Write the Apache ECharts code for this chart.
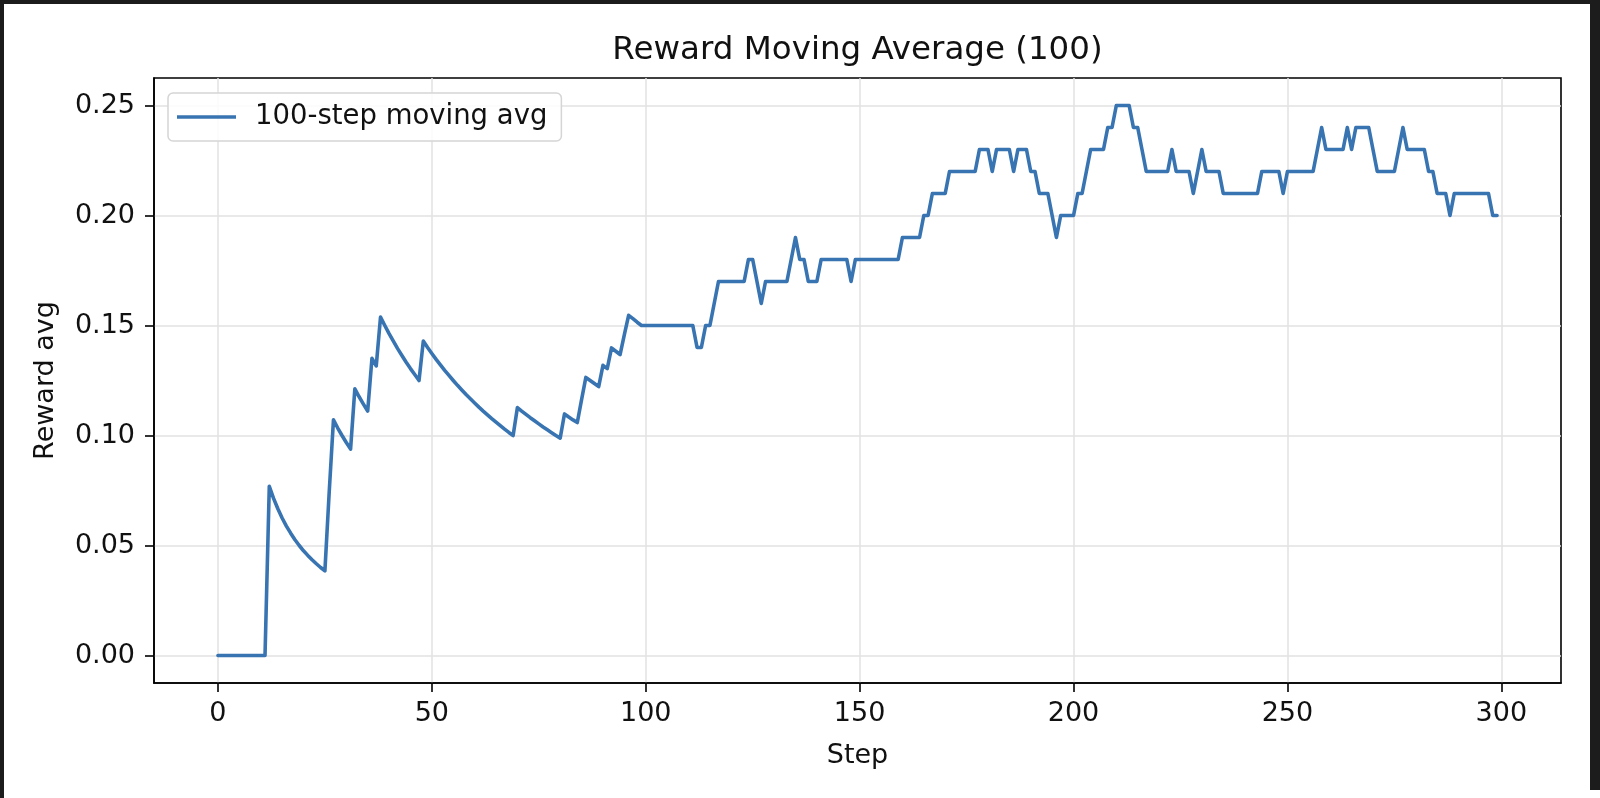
<!DOCTYPE html>
<html>
<head>
<meta charset="utf-8">
<script src="https://cdn.jsdelivr.net/npm/echarts@6/dist/echarts.min.js"></script>
<style>
  html, body { margin: 0; padding: 0; background: #ffffff; }
  #chart { width: 1600px; height: 798px; }
</style>
</head>
<body>
<div id="chart"></div>
<script>
// ---- data ----
const chartTitle = 'Reward Moving Average (100)';
const seriesName = '100-step moving avg';
const xAxisName = 'Step';
const yAxisName = 'Reward avg';
const xTickValues = [0, 50, 100, 150, 200, 250, 300];
const yTickValues = [0, 0.05, 0.10, 0.15, 0.20, 0.25];
// 100-step moving average, one value per step (step = index)
const rewardAvg = [
  0,0,0,0,0,0,0,0,0,0,
  0,0,0.0769,0.0714,0.0667,0.0625,0.0588,0.0556,0.0526,0.05,
  0.0476,0.0455,0.0435,0.0417,0.04,0.0385,0.0741,0.1071,0.1034,0.1,
  0.0968,0.0938,0.1212,0.1176,0.1143,0.1111,0.1351,0.1316,0.1538,0.15,
  0.1463,0.1429,0.1395,0.1364,0.1333,0.1304,0.1277,0.125,0.1429,0.14,
  0.1373,0.1346,0.1321,0.1296,0.1273,0.125,0.1228,0.1207,0.1186,0.1167,
  0.1148,0.1129,0.1111,0.1094,0.1077,0.1061,0.1045,0.1029,0.1014,0.1,
  0.1127,0.1111,0.1096,0.1081,0.1067,0.1053,0.1039,0.1026,0.1013,0.1,
  0.0988,0.1098,0.1084,0.1071,0.1059,0.1163,0.1264,0.125,0.1236,0.1222,
  0.1319,0.1304,0.1398,0.1383,0.1368,0.1458,0.1546,0.1531,0.1515,0.15,
  0.15,0.15,0.15,0.15,0.15,0.15,0.15,0.15,0.15,0.15,
  0.15,0.15,0.14,0.14,0.15,0.15,0.16,0.17,0.17,0.17,
  0.17,0.17,0.17,0.17,0.18,0.18,0.17,0.16,0.17,0.17,
  0.17,0.17,0.17,0.17,0.18,0.19,0.18,0.18,0.17,0.17,
  0.17,0.18,0.18,0.18,0.18,0.18,0.18,0.18,0.17,0.18,
  0.18,0.18,0.18,0.18,0.18,0.18,0.18,0.18,0.18,0.18,
  0.19,0.19,0.19,0.19,0.19,0.20,0.20,0.21,0.21,0.21,
  0.21,0.22,0.22,0.22,0.22,0.22,0.22,0.22,0.23,0.23,
  0.23,0.22,0.23,0.23,0.23,0.23,0.22,0.23,0.23,0.23,
  0.22,0.22,0.21,0.21,0.21,0.20,0.19,0.20,0.20,0.20,
  0.20,0.21,0.21,0.22,0.23,0.23,0.23,0.23,0.24,0.24,
  0.25,0.25,0.25,0.25,0.24,0.24,0.23,0.22,0.22,0.22,
  0.22,0.22,0.22,0.23,0.22,0.22,0.22,0.22,0.21,0.22,
  0.23,0.22,0.22,0.22,0.22,0.21,0.21,0.21,0.21,0.21,
  0.21,0.21,0.21,0.21,0.22,0.22,0.22,0.22,0.22,0.21,
  0.22,0.22,0.22,0.22,0.22,0.22,0.22,0.23,0.24,0.23,
  0.23,0.23,0.23,0.23,0.24,0.23,0.24,0.24,0.24,0.24,
  0.23,0.22,0.22,0.22,0.22,0.22,0.23,0.24,0.23,0.23,
  0.23,0.23,0.23,0.22,0.22,0.21,0.21,0.21,0.20,0.21,
  0.21,0.21,0.21,0.21,0.21,0.21,0.21,0.21,0.20,0.20
];

// ---- chart ----
const FONT = 'DejaVu Sans';
const TXT = '#111111';
const LINE_COLOR = '#3874b1';
const seriesData = rewardAvg.map((v, i) => [i, v]);

const chart = echarts.init(document.getElementById('chart'), null, { renderer: 'canvas' });
chart.setOption({
  animation: false,
  backgroundColor: '#ffffff',
  textStyle: { fontFamily: FONT },
  grid: {
    left: 154, top: 78, right: 39, bottom: 115,
    show: true, borderColor: '#000000', borderWidth: 1.6, backgroundColor: 'transparent',
    containLabel: false
  },
  legend: {
    left: 168, top: 93,
    orient: 'vertical',
    data: [{ name: seriesName, icon: 'rect' }],
    itemWidth: 59, itemHeight: 3.6,
    padding: [10, 14, 10, 9],
    backgroundColor: 'rgba(255,255,255,0.85)',
    borderColor: '#d5d5d5', borderWidth: 1.5, borderRadius: 5,
    textStyle: { fontFamily: FONT, fontSize: 27.5, color: TXT, padding: [0, 0, 0, 14] }
  },
  xAxis: {
    type: 'value',
    min: -14.95, max: 313.95,
    name: xAxisName, nameLocation: 'middle', nameGap: 59,
    nameTextStyle: { fontFamily: FONT, fontSize: 27, color: TXT },
    axisLine: { show: true, onZero: false, lineStyle: { color: '#000', width: 1.6 } },
    axisTick: { show: true, inside: false, length: 9, customValues: xTickValues, lineStyle: { color: '#000', width: 1.6 } },
    axisLabel: { show: true, customValues: xTickValues, margin: 17, fontFamily: FONT, fontSize: 27, color: TXT,
                 formatter: v => String(Math.round(v)) },
    splitLine: { show: true, lineStyle: { color: '#e2e2e2', width: 1.5 } }
  },
  yAxis: {
    type: 'value',
    min: -0.0125, max: 0.2625,
    name: yAxisName, nameLocation: 'middle', nameGap: 95, nameRotate: 90,
    nameTextStyle: { fontFamily: FONT, fontSize: 27, color: TXT },
    axisLine: { show: true, onZero: false, lineStyle: { color: '#000', width: 1.6 } },
    axisTick: { show: true, inside: false, length: 9, customValues: yTickValues, lineStyle: { color: '#000', width: 1.6 } },
    axisLabel: { show: true, customValues: yTickValues, margin: 19, fontFamily: FONT, fontSize: 27, color: TXT,
                 formatter: v => Number(v).toFixed(2) },
    splitLine: { show: true, lineStyle: { color: '#e2e2e2', width: 1.5 } }
  },
  series: [{
    name: seriesName,
    type: 'line',
    data: seriesData,
    symbol: 'none',
    showSymbol: false,
    smooth: false,
    color: LINE_COLOR,
    itemStyle: { color: LINE_COLOR },
    lineStyle: { color: LINE_COLOR, width: 3.6, join: 'round', cap: 'round' },
    z: 3
  }],
  graphic: [
    { type: 'text', x: 857.5, y: 51, z: 10,
      style: { text: chartTitle, fontFamily: FONT, fontSize: 32.5, fill: TXT,
               textAlign: 'center', textVerticalAlign: 'middle' } },
    { type: 'rect', shape: { x: 0, y: 0, width: 1600, height: 4 }, style: { fill: '#1c1c1c' }, z: 20 },
    { type: 'rect', shape: { x: 0, y: 0, width: 4, height: 798 }, style: { fill: '#1c1c1c' }, z: 20 },
    { type: 'rect', shape: { x: 1590, y: 0, width: 10, height: 790 }, style: { fill: '#1c1c1c' }, z: 20 }
  ]
});
</script>
</body>
</html>
